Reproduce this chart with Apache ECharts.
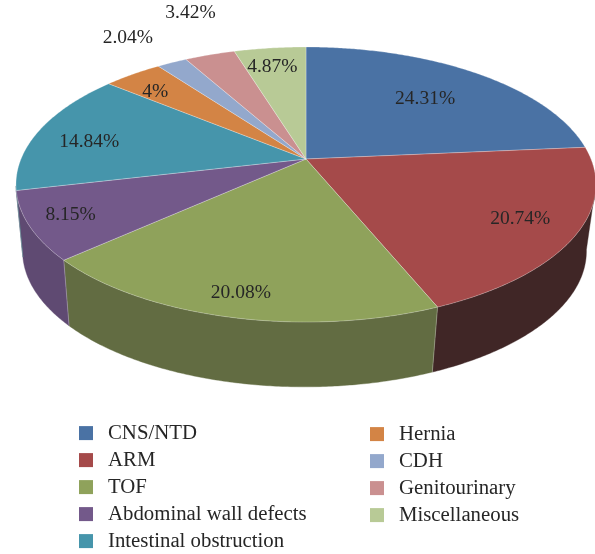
<!DOCTYPE html>
<html>
<head>
<meta charset="utf-8">
<style>html,body{margin:0;padding:0;background:#fff}#c{width:595px;height:554px}</style>
<script src="https://cdn.jsdelivr.net/npm/echarts@6/dist/echarts.min.js"></script>
</head>
<body>
<div id="c"></div>
<script>
const categories = ['CNS/NTD','ARM','TOF','Abdominal wall defects','Intestinal obstruction','Hernia','CDH','Genitourinary','Miscellaneous'];
const values = [24.31,20.74,20.08,8.15,14.84,4,2.04,3.42,4.87];
const topColors = ['#4A72A4','#A54A4A','#8FA25B','#73598A','#4695AB','#D38445','#93A8CC','#CA9090','#B8CA96'];
const sideColors = ['#2E4766','#402626','#626C42','#5F4A72','#2B5C6A','#84522B','#5C6980','#7E5A5A','#737E5E'];
const labelRadius = [0.67,0.81,0.87,0.86,0.79,0.81,1.33,1.47,0.81];
const labelTurn = [0.5,0,0,0.5,-3.5,-2.5,-1.5,3,-1];

const FONT = '"Liberation Serif","Times New Roman",serif';
const TEXT = '#262626';
// Perspective projection of the pie disc (top face and bottom face)
const TOP = {cx:306, cy:159, bx:285, ay:132.8, k:0.1855};
const BOT = {cx:304.5, cy:226, bx:277, ay:131, k:0.1855};
const total = values.reduce((a,b)=>a+b,0);
const starts = [];
values.reduce((acc,v,i)=>{starts[i]=acc; return acc+v/total*360;},0);

function project(p, deg0, r){
  const deg = deg0 - 0.8*Math.sin(deg0*Math.PI/360);  // slight twist of the 3D view
  const t = deg*Math.PI/180, X = r*Math.sin(t), Y = r*Math.cos(t), d = 1+p.k*Y;
  return [p.cx+p.bx*X/d, p.cy-p.ay*Y/d];
}
function arc(p, a, b){
  const pts=[], n=Math.max(2,Math.ceil(Math.abs(b-a)/0.5));
  for(let i=0;i<=n;i++) pts.push(project(p,a+(b-a)*i/n,1));
  return pts;
}
const silhouette = Math.acos(-TOP.k)*180/Math.PI;
const edge = {stroke:'rgba(255,255,255,0.45)', lineWidth:0.6};

function renderSlice(i){
  return function(params, api){
    const v = api.value(0), a = starts[i], b = a+v/total*360;
    const kids = [];
    const sa = Math.max(a,silhouette), sb = Math.min(b,360-silhouette);
    if(sb>sa){
      const pts = arc(TOP,sa,sb).concat(arc(BOT,sa,sb).reverse());
      kids.push({type:'polygon',z2:1,shape:{points:pts},style:{fill:sideColors[i],stroke:sideColors[i],lineWidth:0.4}});
      if(sa===a) kids.push({type:'line',z2:2,shape:{x1:project(TOP,a,1)[0],y1:project(TOP,a,1)[1],x2:project(BOT,a,1)[0],y2:project(BOT,a,1)[1]},style:edge});
    }
    kids.push({type:'polygon',z2:5,shape:{points:[project(TOP,0,0)].concat(arc(TOP,a,b))},style:Object.assign({fill:topColors[i]},edge)});
    const mid=(a+b)/2+labelTurn[i], lp=project(TOP,mid,labelRadius[i]);
    kids.push({type:'text',z2:10,style:{text:v+'%',x:lp[0],y:lp[1],fill:TEXT,font:'19.5px '+FONT,align:'center',verticalAlign:'middle'}});
    return {type:'group',children:kids};
  };
}

const legendBase = {orient:'vertical',icon:'rect',itemWidth:14,itemHeight:14,itemGap:6,selectedMode:false,
  padding:0,textStyle:{fontFamily:FONT,fontSize:20.8,color:TEXT,padding:[0,0,0,10]}};

const chart = echarts.init(document.getElementById('c'),null,{renderer:'canvas'});
chart.setOption({
  animation:false,
  backgroundColor:'#fff',
  tooltip:{show:false},
  legend:[
    Object.assign({},legendBase,{left:79,top:422.6,data:categories.slice(0,5)}),
    Object.assign({},legendBase,{left:370,top:423.6,data:categories.slice(5)})
  ],
  series:categories.map((name,i)=>({
    type:'custom',name,coordinateSystem:'none',silent:true,
    itemStyle:{color:topColors[i]},
    data:[[values[i]]],
    renderItem:renderSlice(i)
  }))
});
</script>
</body>
</html>
